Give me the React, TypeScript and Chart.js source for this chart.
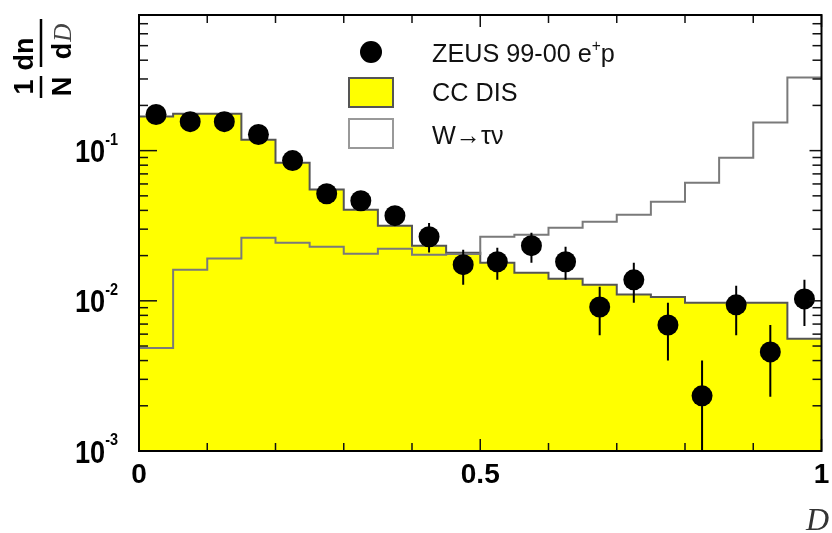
import React, { useEffect, useRef } from 'react';
import { Chart, registerables } from 'chart.js';

Chart.register(...registerables);

// ---- data ----
const binEdges = [0, 0.05, 0.1, 0.15, 0.2, 0.25, 0.3, 0.35, 0.4, 0.45, 0.5, 0.55, 0.6, 0.65, 0.7, 0.75, 0.8, 0.85, 0.9, 0.95, 1.0];
const ccDis = [0.169, 0.176, 0.176, 0.118, 0.083, 0.055, 0.0404, 0.0316, 0.0233, 0.0209, 0.0179, 0.0154, 0.014, 0.0128, 0.011, 0.0106, 0.0097, 0.0097, 0.0097, 0.00558];
const wTauNu = [0.00486, 0.0161, 0.0191, 0.0263, 0.0244, 0.0229, 0.0206, 0.0222, 0.0203, 0.0205, 0.0267, 0.0275, 0.0307, 0.0336, 0.0374, 0.0457, 0.0612, 0.0897, 0.154, 0.307];
const dataX = [0.025, 0.075, 0.125, 0.175, 0.225, 0.275, 0.325, 0.375, 0.425, 0.475, 0.525, 0.575, 0.625, 0.675, 0.725, 0.775, 0.825, 0.875, 0.925, 0.975];
const dataY = [0.174, 0.156, 0.156, 0.128, 0.0858, 0.0516, 0.0464, 0.0369, 0.0267, 0.0174, 0.0182, 0.0233, 0.0182, 0.0091, 0.0138, 0.0069, 0.00233, 0.0094, 0.00457, 0.0103];
const errLow = [0.165, 0.147, 0.147, 0.12, 0.079, 0.046, 0.041, 0.032, 0.021, 0.0128, 0.0138, 0.0179, 0.0138, 0.0059, 0.0097, 0.004, 0.0005, 0.0059, 0.0023, 0.0068];
const errHigh = [0.183, 0.165, 0.165, 0.136, 0.092, 0.057, 0.052, 0.042, 0.033, 0.0219, 0.0226, 0.0284, 0.0229, 0.0124, 0.0179, 0.0097, 0.004, 0.0126, 0.0069, 0.0138];

const legendLabels = ['ZEUS 99-00 e^{+}p', 'CC DIS', 'W→τν'];
const xTickValues = [0, 0.5, 1];
const xTickLabels = ['0', '0.5', '1'];
const xMinorTicks = [0.1, 0.2, 0.3, 0.4, 0.6, 0.7, 0.8, 0.9];
const yDecades = [0.001, 0.01, 0.1];
const yTickLabels = ['10^{-3}', '10^{-2}', '10^{-1}'];
const yMin = 0.001;
const yMax = 0.8;

const SANS = "'Liberation Sans', Arial, Helvetica, sans-serif";
const SERIF = "'Liberation Serif', 'DejaVu Serif', serif";

type Seg = { t: string; sup: boolean };
function segs(s: string): Seg[] {
  const out: Seg[] = [];
  const re = /\^\{([^}]*)\}/g;
  let last = 0;
  let m: RegExpExecArray | null;
  while ((m = re.exec(s))) {
    if (m.index > last) out.push({ t: s.slice(last, m.index), sup: false });
    out.push({ t: m[1], sup: true });
    last = re.lastIndex;
  }
  if (last < s.length) out.push({ t: s.slice(last), sup: false });
  return out;
}

function drawRich(
  ctx: CanvasRenderingContext2D,
  s: string,
  x: number,
  y: number,
  o: { size: number; supSize: number; rise: number; weight: string; align: 'left' | 'right' | 'center'; sx?: number; color?: string }
) {
  const sx = o.sx ?? 1;
  const parts = segs(s);
  const fontOf = (sup: boolean) => `${o.weight} ${sup ? o.supSize : o.size}px ${SANS}`;
  let w = 0;
  for (const p of parts) {
    ctx.font = fontOf(p.sup);
    w += ctx.measureText(p.t).width;
  }
  ctx.save();
  ctx.translate(x, y);
  ctx.scale(sx, 1);
  let cx = o.align === 'left' ? 0 : o.align === 'right' ? -w : -w / 2;
  ctx.textAlign = 'left';
  ctx.textBaseline = 'alphabetic';
  ctx.fillStyle = o.color || '#000';
  for (const p of parts) {
    ctx.font = fontOf(p.sup);
    ctx.fillText(p.t, cx, p.sup ? -o.rise : 0);
    cx += ctx.measureText(p.t).width;
  }
  ctx.restore();
}

const rootPlugin = {
  id: 'rootStyle',
  afterDatasetsDraw(chart: any) {
    const ctx: CanvasRenderingContext2D = chart.ctx;
    const xs = chart.scales.x;
    const ys = chart.scales.y;
    const a = chart.chartArea;
    ctx.save();
    ctx.beginPath();
    ctx.rect(a.left, a.top, a.right - a.left, a.bottom - a.top);
    ctx.clip();
    ctx.strokeStyle = '#000';
    ctx.lineWidth = 2;
    for (let i = 0; i < dataX.length; i++) {
      const px = xs.getPixelForValue(dataX[i]);
      ctx.beginPath();
      ctx.moveTo(px, ys.getPixelForValue(errLow[i]));
      ctx.lineTo(px, ys.getPixelForValue(errHigh[i]));
      ctx.stroke();
    }
    ctx.restore();
  },
  afterDraw(chart: any) {
    const ctx: CanvasRenderingContext2D = chart.ctx;
    const xs = chart.scales.x;
    const ys = chart.scales.y;
    const a = chart.chartArea;
    ctx.save();

    // ticks
    ctx.strokeStyle = '#111';
    ctx.lineWidth = 1.5;
    const line = (x1: number, y1: number, x2: number, y2: number) => {
      ctx.beginPath();
      ctx.moveTo(x1, y1);
      ctx.lineTo(x2, y2);
      ctx.stroke();
    };
    for (const v of xMinorTicks) {
      const px = xs.getPixelForValue(v);
      line(px, a.bottom, px, a.bottom - 8);
      line(px, a.top, px, a.top + 8);
    }
    for (const v of xTickValues) {
      const px = xs.getPixelForValue(v);
      line(px, a.bottom, px, a.bottom - 12);
      line(px, a.top, px, a.top + 12);
    }
    for (const d of yDecades) {
      for (let m = 1; m <= 9; m++) {
        const v = d * m;
        if (v > yMax) break;
        const py = ys.getPixelForValue(v);
        const len = m === 1 ? 18 : 9;
        line(a.left, py, a.left + len, py);
        line(a.right, py, a.right - (m === 1 ? 12 : 9), py);
      }
    }

    // frame
    ctx.strokeStyle = '#000';
    ctx.lineWidth = 2;
    ctx.strokeRect(a.left, a.top, a.right - a.left, a.bottom - a.top);

    // y tick labels
    for (let i = 0; i < yDecades.length; i++) {
      const py = ys.getPixelForValue(yDecades[i]);
      drawRich(ctx, yTickLabels[i], 118, py + 11.5, { size: 32, supSize: 17, rise: 17.5, weight: 'bold', align: 'right', sx: 0.85, color: '#000' });
    }
    // x tick labels
    for (let i = 0; i < xTickValues.length; i++) {
      const px = xs.getPixelForValue(xTickValues[i]);
      drawRich(ctx, xTickLabels[i], px, 483, { size: 28, supSize: 16, rise: 10, weight: 'bold', align: 'center', color: '#000' });
    }

    // x axis title
    ctx.fillStyle = '#333';
    ctx.font = `italic 32px ${SERIF}`;
    ctx.textAlign = 'left';
    ctx.textBaseline = 'alphabetic';
    ctx.fillText('D', 806, 530);

    // y axis title (rotated fraction)
    ctx.save();
    ctx.translate(41, 0);
    ctx.rotate(-Math.PI / 2);
    ctx.fillStyle = '#000';
    ctx.textBaseline = 'alphabetic';
    ctx.textAlign = 'center';
    ctx.font = `bold 27px ${SANS}`;
    ctx.fillText('1', -87, -8);
    ctx.fillText('N', -86.5, 30);
    ctx.fillText('dn', -54, -8);
    // d D
    const wd = ctx.measureText('d').width;
    ctx.font = `italic 25px ${SERIF}`;
    const wD = ctx.measureText('D').width;
    const start = -42 - (wd + wD) / 2;
    ctx.textAlign = 'left';
    ctx.font = `bold 27px ${SANS}`;
    ctx.fillText('d', start, 30);
    ctx.fillStyle = '#444';
    ctx.font = `italic 25px ${SERIF}`;
    ctx.fillText('D', start + wd + 1, 30);
    ctx.strokeStyle = '#000';
    ctx.lineWidth = 2.5;
    line(-98, 0, -76, 0);
    line(-67, 0, -19, 0);
    ctx.restore();

    // legend
    ctx.fillStyle = '#000';
    ctx.beginPath();
    ctx.arc(371, 52, 11, 0, Math.PI * 2);
    ctx.fill();
    ctx.fillStyle = '#ffff00';
    ctx.fillRect(349, 78, 44, 29);
    ctx.strokeStyle = '#555';
    ctx.lineWidth = 2;
    ctx.strokeRect(349, 78, 44, 29);
    ctx.fillStyle = '#fff';
    ctx.fillRect(349, 119, 44, 29);
    ctx.strokeStyle = '#999';
    ctx.strokeRect(349, 119, 44, 29);
    const lopts = { size: 26, supSize: 16, rise: 11, weight: 'normal', align: 'left' as const, sx: 0.97, color: '#111' };
    drawRich(ctx, legendLabels[0], 432, 62, lopts);
    drawRich(ctx, legendLabels[1], 432, 101, lopts);
    drawRich(ctx, legendLabels[2], 432, 144, lopts);

    ctx.restore();
  },
};

export default function App() {
  const ref = useRef<HTMLCanvasElement | null>(null);
  useEffect(() => {
    const canvas = ref.current;
    if (!canvas) return;
    const ccPts = binEdges.map((x, i) => ({ x, y: ccDis[Math.min(i, ccDis.length - 1)] }));
    const wPts = binEdges.map((x, i) => ({ x, y: wTauNu[Math.min(i, wTauNu.length - 1)] }));
    const dPts = dataX.map((x, i) => ({ x, y: dataY[i] }));
    const chart = new Chart(canvas, {
      type: 'line',
      data: {
        datasets: [
          {
            label: 'ZEUS 99-00 e+p',
            type: 'scatter',
            data: dPts,
            pointRadius: 10.5,
            pointBackgroundColor: '#000',
            pointBorderWidth: 0,
            showLine: false,
            order: 0,
          } as any,
          {
            label: 'W→τν',
            data: wPts,
            stepped: 'before',
            borderColor: '#7a7a7a',
            borderWidth: 2,
            pointRadius: 0,
            fill: false,
            order: 1,
          },
          {
            label: 'CC DIS',
            data: ccPts,
            stepped: 'before',
            borderColor: '#555',
            borderWidth: 2,
            backgroundColor: '#ffff00',
            fill: 'start',
            pointRadius: 0,
            order: 2,
          },
        ],
      },
      options: {
        animation: false,
        responsive: false,
        maintainAspectRatio: false,
        events: [],
        layout: { padding: { left: 139, top: 15, right: 3, bottom: 82 } },
        scales: {
          x: { type: 'linear', min: 0, max: 1, display: false },
          y: { type: 'logarithmic', min: yMin, max: yMax, display: false },
        },
        plugins: { legend: { display: false }, tooltip: { enabled: false } },
      },
      plugins: [rootPlugin],
    });
    return () => chart.destroy();
  }, []);
  return (
    <div style={{ position: 'fixed', left: 0, top: 0, width: 832, height: 533, background: '#fff' }}>
      <canvas ref={ref} width={832} height={533} style={{ display: 'block', width: 832, height: 533 }} />
    </div>
  );
}
